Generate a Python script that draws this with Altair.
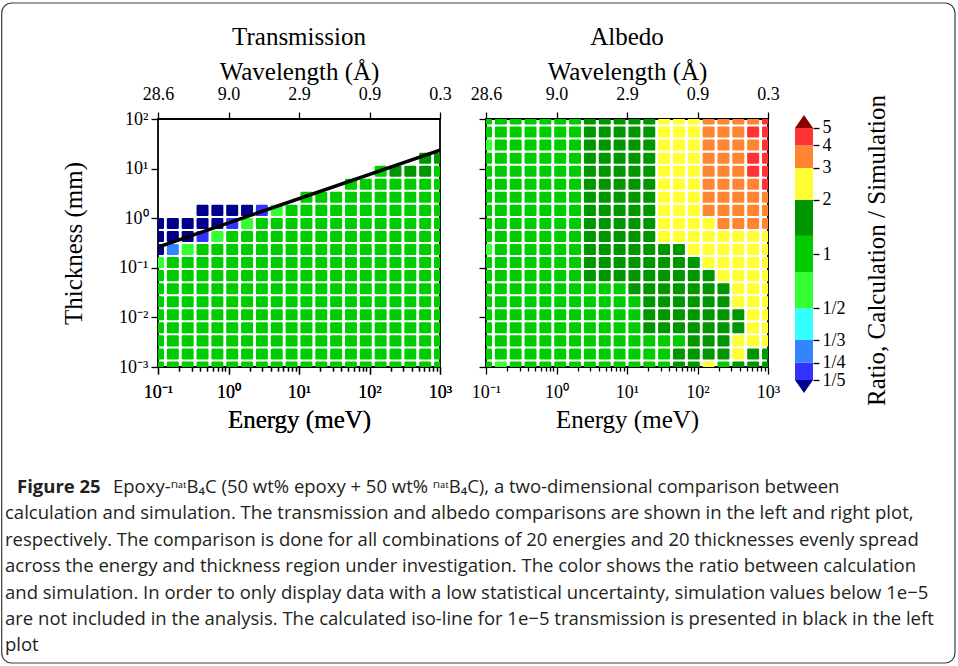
import json
import altair as alt
import pandas as pd

SERIF = "Liberation Serif"
SANS = "Open Sans"

# ---------------- data ----------------
energies = [0.1, 0.16238, 0.26367, 0.42813, 0.69519, 1.1288, 1.8330, 2.9764,
            4.8329, 7.8476, 12.743, 20.691, 33.598, 54.556, 88.587, 143.84,
            233.57, 379.27, 615.85, 1000.0]
thicknesses = [0.001, 0.001833, 0.0033598, 0.0061585, 0.011288, 0.020691,
               0.037927, 0.069519, 0.12743, 0.23357, 0.42813, 0.78476,
               1.4384, 2.6367, 4.8329, 8.8587, 16.238, 29.764, 54.556, 100.0]

# rows from the thickest (top) to the thinnest (bottom); one char per energy
# N <1/5, B 1/5-1/4, L 1/4-1/3, C 1/3-1/2, g 1/2-0.79, G 0.79-1.26,
# D 1.26-2, Y 2-3, O 3-4, R 4-5, X >5, . not included
transmission_rows = [
    "....................",
    "....................",
    "....................",
    "..................DD",
    "...............GDDDG",
    ".............GGGGGGG",
    "..........GGGGGGGGGG",
    "...NNNNBgGGGGGGGGGGG",
    "NNNNNBgGGGGGGGGGGGGG",
    "NNNBgGGGGGGGGGGGGGGG",
    "NLgGGGGGGGGGGGGGGGGG",
    "gGGGGGGGGGGGGGGGGGGG",
    "GGGGGGGGGGGGGGGGGGGG",
    "GGGGGGGGGGGGGGGGGGGG",
    "GGGGGGGGGGGGGGGGGGGG",
    "GGGGGGGGGGGGGGGGGGGG",
    "GGGGGGGGGGGGGGGGGGGG",
    "GGGGGGGGGGGGGGGGGGGG",
    "GGGGGGGGGGGGGGGGGGGG",
    "GGGGGGGGGGGGGGGGGGGG",
]
albedo_rows = [
    "GGGGGGGDDDDDYYYOOOOR",
    "GGGGGGGDDDDDYYYOOORR",
    "gGGGGGGDDDDDYYYOOOOR",
    "GGGGGGGDDDDDYYYOOORR",
    "GGGGGGGDDDDDYYYOOORR",
    "GGGGGGGDDDDDYYYOOOOR",
    "GGGGGGGDDDDDYYYOOOOO",
    "GGGGGGGDDDDDYYYOOOOO",
    "GGGGGGGDDDDDYYYYOOOO",
    "GGGGGGGDDDDDYYYYYYYY",
    "gGGGGGGDDDDDDDYYYYYY",
    "GGGGGGGDDDDDDDDYYYYY",
    "GGGGGGGDDDDDDDDDYYYY",
    "GGGGGGGGGGDDDDDDDYYY",
    "GGGGGGGGGGGDDDDDDYYY",
    "GGGGGGGGGGGDDDDDDDYY",
    "GGGGGGGGGGGDDDDDDDYY",
    "GGGGGGGGGGGGGGDDDYYY",
    "GGGGGGGGGGGGGDDDDYDD",
    "GgGGGGGGGGGGGDDYGDDD",
]

iso_energy = [0.1, 1000.0]
iso_thickness = [0.26, 23.5]

band_codes = ["N", "B", "L", "C", "g", "G", "D", "Y", "O", "R", "X"]
band_colors = ["#00008b", "#3333ff", "#3385ff", "#33ffff", "#33ff33", "#00cc00",
               "#009600", "#ffff33", "#ff8533", "#ff3333", "#8b0000"]
band_edges = [0.2, 0.25, 0.3333, 0.5, 0.794, 1.26, 2.0, 3.0, 4.0, 5.0]

cbar_ticks = [0.2, 0.25, 0.3333, 0.5, 1.0, 2.0, 3.0, 4.0, 5.0]
cbar_labels = ["1/5", "1/4", "1/3", "1/2", "1", "2", "3", "4", "5"]

energy_major = [0.1, 1.0, 10.0, 100.0, 1000.0]
energy_labels = ["10⁻¹", "10⁰", "10¹", "10²", "10³"]
wavelength_labels = ["28.6", "9.0", "2.9", "0.9", "0.3"]
energy_minor = [0.2, 0.3, 0.4, 0.5, 0.6, 0.7, 0.8, 0.9,
                2.0, 3.0, 4.0, 5.0, 6.0, 7.0, 8.0, 9.0,
                20.0, 30.0, 40.0, 50.0, 60.0, 70.0, 80.0, 90.0,
                200.0, 300.0, 400.0, 500.0, 600.0, 700.0, 800.0, 900.0]
thickness_major = [0.001, 0.01, 0.1, 1.0, 10.0, 100.0]
thickness_labels = ["10⁻³", "10⁻²", "10⁻¹", "10⁰", "10¹", "10²"]

caption_head = "Figure 25"
caption_first = "Epoxy-ⁿᵃᵗB₄C (50 wt% epoxy + 50 wt% ⁿᵃᵗB₄C), a two-dimensional comparison between"
caption_rest = [
    "calculation and simulation. The transmission and albedo comparisons are shown in the left and right plot,",
    "respectively. The comparison is done for all combinations of 20 energies and 20 thicknesses evenly spread",
    "across the energy and thickness region under investigation. The color shows the ratio between calculation",
    "and simulation. In order to only display data with a low statistical uncertainty, simulation values below 1e−5",
    "are not included in the analysis. The calculated iso-line for 1e−5 transmission is presented in black in the left",
    "plot",
]


# ---------------- helpers ----------------
def cell_frame(rows):
    recs = []
    n = len(rows)
    for r, row in enumerate(rows):
        j = n - 1 - r
        for i, code in enumerate(row):
            if code != ".":
                recs.append({"energy": energies[i], "thickness": thicknesses[j], "code": code})
    return pd.DataFrame(recs)


def label_expr(vals, labels):
    v = json.dumps(vals)
    l = json.dumps(labels, ensure_ascii=False)
    return f"indexof({v}, datum.value) >= 0 ? {l}[indexof({v}, datum.value)] : ''"


W, H = 282, 248
TITLE_SIZE = 25
xs = alt.Scale(type="log", domain=[0.1, 1000], nice=False)
ys = alt.Scale(type="log", domain=[0.001, 100], nice=False)
cscale = alt.Scale(domain=band_codes, range=band_colors)

major_test = f"indexof({json.dumps(energy_major)}, datum.value) >= 0"
bottom_axis = alt.Axis(
    orient="bottom", values=sorted(energy_major + energy_minor),
    labelExpr=label_expr(energy_major, energy_labels),
    tickSize={"condition": {"test": major_test, "value": 7}, "value": 4},
    tickWidth=1.3, labelFontSize=18, labelPadding=9, labelFlush=False,
    labelOverlap=False, title="Energy (meV)", titleFontSize=TITLE_SIZE, titlePadding=6)
top_axis = alt.Axis(
    orient="top", values=energy_major,
    labelExpr=label_expr(energy_major, wavelength_labels),
    tickSize=7, tickWidth=1.3, labelFontSize=18, labelPadding=9, labelFlush=False,
    labelOverlap=False, title="Wavelength (Å)", titleFontSize=TITLE_SIZE, titlePadding=1)
y_axis_left = alt.Axis(
    values=thickness_major, labelExpr=label_expr(thickness_major, thickness_labels),
    tickSize=7, tickWidth=1.3, labelFontSize=18, labelPadding=3, labelFlush=False,
    labelOverlap=False, title="Thickness (mm)", titleFontSize=TITLE_SIZE, titlePadding=32)
y_axis_right = alt.Axis(values=thickness_major, labels=False, tickSize=7,
                        tickWidth=1.3, title="")

ROUNDED = ("M-0.8,-0.92L0.8,-0.92Q1,-0.92 1,-0.72L1,0.72Q1,0.92 0.8,0.92"
           "L-0.8,0.92Q-1,0.92 -1,0.72L-1,-0.72Q-1,-0.92 -0.8,-0.92Z")

top_df = pd.DataFrame({"energy": energy_major})


def panel(rows, title, yaxis, extra):
    cells = alt.Chart(cell_frame(rows)).mark_point(
        shape=ROUNDED, size=144, filled=True, opacity=1, clip=True
    ).encode(
        x=alt.X("energy:Q", scale=xs, axis=bottom_axis),
        y=alt.Y("thickness:Q", scale=ys, axis=yaxis),
        color=alt.Color("code:N", scale=cscale, legend=None),
    )
    top = alt.Chart(top_df).mark_point(opacity=0).encode(
        x=alt.X("energy:Q", scale=xs, axis=top_axis))
    return alt.layer(cells, top, *extra).resolve_axis(x="independent").properties(
        width=W, height=H,
        title=alt.TitleParams(text=title, frame="group", offset=9, fontSize=TITLE_SIZE,
                              font=SERIF, fontWeight="normal", color="black"))


iso = alt.Chart(pd.DataFrame({"energy": iso_energy, "thickness": iso_thickness})).mark_line(
    color="black", strokeWidth=3.5, clip=True
).encode(
    x=alt.X("energy:Q", scale=xs, axis=bottom_axis),
    y=alt.Y("thickness:Q", scale=ys, axis=y_axis_left),
)

left = panel(transmission_rows, "Transmission", y_axis_left, [iso])
right = panel(albedo_rows, "Albedo", y_axis_right, [])

# ---------------- colour bar (plot area starts 46 px right of the right panel) ----
cb_scale = alt.Scale(type="log", domain=[0.1975, 5.609], nice=False)
cb_axis = alt.Axis(
    orient="right", offset=-2, values=cbar_ticks,
    labelExpr=label_expr(cbar_ticks, cbar_labels),
    tickSize=6, tickWidth=1.3, labelFontSize=18, labelPadding=3, labelFlush=False,
    labelOverlap=False, title="Ratio, Calculation / Simulation", titleFontSize=TITLE_SIZE,
    titleAngle=270, titleBaseline="top", titlePadding=19)
bands = pd.DataFrame({"lo": band_edges[:-1], "hi": band_edges[1:], "code": band_codes[1:-1]})
bars = alt.Chart(bands).mark_rect().encode(
    y=alt.Y("lo:Q", scale=cb_scale, axis=cb_axis),
    y2="hi:Q",
    x=alt.value(-19), x2=alt.value(-1),
    color=alt.Color("code:N", scale=cscale, legend=None),
)
over = alt.Chart(pd.DataFrame({"v": [band_edges[-1]], "code": [band_codes[-1]]})).mark_point(
    shape="M-1,0L1,0L0,-1.45Z", size=324, filled=True, opacity=1
).encode(x=alt.value(-10), y=alt.Y("v:Q", scale=cb_scale, axis=cb_axis),
         color=alt.Color("code:N", scale=cscale, legend=None))
under = alt.Chart(pd.DataFrame({"v": [band_edges[0]], "code": [band_codes[0]]})).mark_point(
    shape="M-1,0L1,0L0,1.45Z", size=324, filled=True, opacity=1
).encode(x=alt.value(-10), y=alt.Y("v:Q", scale=cb_scale, axis=cb_axis),
         color=alt.Color("code:N", scale=cscale, legend=None))

# frame and caption, placed relative to the colour-bar panel origin
CAP_SIZE = 18.5
dummy = pd.DataFrame({"a": [0]})
border = alt.Chart(dummy).mark_rect(
    fillOpacity=0, stroke="#3a3a3a", strokeWidth=1.2, cornerRadius=10
).encode(x=alt.value(-812.3), x2=alt.value(141), y=alt.value(-116), y2=alt.value(544))
cap_head = alt.Chart(dummy).mark_text(
    text=caption_head, font=SANS, fontSize=CAP_SIZE, fontWeight="bold", align="left",
    baseline="alphabetic", color="#231f20"
).encode(x=alt.value(-797), y=alt.value(374))
cap_first = alt.Chart(dummy).mark_text(
    text=caption_first, font=SANS, fontSize=CAP_SIZE, align="left",
    baseline="alphabetic", color="#231f20"
).encode(x=alt.value(-701), y=alt.value(374))
cap_rest = alt.Chart(dummy).mark_text(
    text=caption_rest, font=SANS, fontSize=CAP_SIZE, align="left", lineHeight=26.4,
    baseline="alphabetic", color="#231f20"
).encode(x=alt.value(-809), y=alt.value(400.4))

cbar = alt.layer(bars, over, under, border, cap_head, cap_first, cap_rest).properties(
    width=1, height=262, view=alt.ViewBackground(stroke="transparent", strokeWidth=0))

chart = alt.hconcat(left, right, cbar, spacing=46, bounds="flush").properties(
    padding={"left": 1, "top": 2, "right": 0, "bottom": 0}, background="white"
).configure_view(stroke="black", strokeWidth=1.8).configure_axis(
    labelFont=SERIF, titleFont=SERIF, labelColor="black", titleColor="black",
    tickColor="black", domain=False, grid=False, titleFontWeight="normal"
)

chart.save("out.html", embed_options={"renderer": "svg", "actions": False})
